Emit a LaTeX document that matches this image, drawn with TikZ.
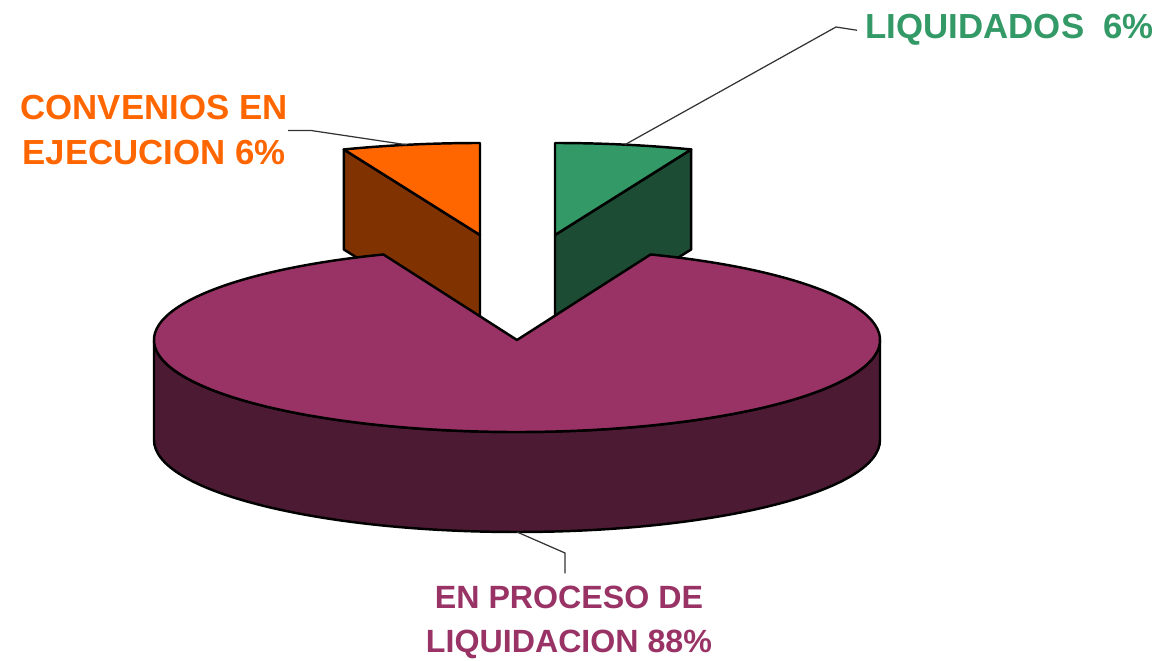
\documentclass[tikz,border=0pt]{standalone}
\usepackage{fontspec}
\setmainfont{Liberation Sans}
\usepackage{xcolor}
\usetikzlibrary{calc}

\definecolor{convtop}{HTML}{FF6600}
\definecolor{convside}{HTML}{803300}
\definecolor{liqtop}{HTML}{339966}
\definecolor{liqside}{HTML}{1C4C34}
\definecolor{proctop}{HTML}{993366}
\definecolor{procside}{HTML}{4C1A33}

\begin{document}
\begin{tikzpicture}[x=0.01cm, y=-0.01cm, font=\bfseries\fontsize{9.9}{12.8}\selectfont,
    face/.style={draw=black, line width=0.7pt, line join=round},
    leader/.style={draw=black!80, line width=0.35pt},
    piecetext/.style={inner sep=0pt, align=center}]
    \useasboundingbox (0,0) rectangle (1157,661);
    \def\rx{363}
    \def\ry{92}
    \def\sx{370}
    \def\depth{100}
    \coordinate (convc) at (480,235);
    \coordinate (liqc) at (555,235);
    \coordinate (procc) at (517,340);

    \draw[face, fill=convside] (convc) -- ++(-111.6:370 and 92) -- ++(0,\depth) -- ($(convc)+(0,\depth)$) -- cycle;
    \draw[face, fill=convtop] (convc) -- ++(-111.6:370 and 92) arc[start angle=-111.6, end angle=-90, x radius=\sx, y radius=\ry] -- cycle;
    \draw[face, fill=liqside] (liqc) -- ++(-68.4:370 and 92) -- ++(0,\depth) -- ($(liqc)+(0,\depth)$) -- cycle;
    \draw[face, fill=liqtop] (liqc) -- ++(-90:370 and 92) arc[start angle=-90, end angle=-68.4, x radius=\sx, y radius=\ry] -- cycle;

    \draw[face, fill=procside] ($(procc)+(\rx,0)$) arc[start angle=0, end angle=180, x radius=\rx, y radius=\ry] -- ++(0,\depth) arc[start angle=180, end angle=0, x radius=\rx, y radius=\ry] -- cycle;
    \draw[face, fill=proctop] (procc) -- ++(-68.4:363 and 92) arc[start angle=-68.4, end angle=248.4, x radius=\rx, y radius=\ry] -- cycle;

    \coordinate (convpin) at ($(convc)+(-101.4:370 and 92)$);
    \coordinate (liqpin) at ($(liqc)+(-79.1:370 and 92)$);
    \coordinate (procpin) at ($(procc)+(0,\depth)+(90:363 and 92)$);

    \node[piecetext, text=convtop] (convtext) at (154,130.5) {CONVENIOS EN\\EJECUCION 6\%};
    \node[piecetext, text=liqtop, anchor=base west] (liqtext) at (865,39) {LIQUIDADOS\ \ 6\%};
    \node[piecetext, text=proctop, font=\bfseries\fontsize{9.15}{12.5}\selectfont] (proctext) at (569,622.5) {EN PROCESO DE\\LIQUIDACION 88\%};

    \coordinate (convbend) at (311,130.5);
    \coordinate (liqbend) at (836,27);
    \coordinate (procbend) at (565,553);
    \draw[leader] (convpin) -- (convbend) -- (convtext.east);
    \draw[leader] (liqpin) -- (liqbend) -- ($(liqtext.west)+(-8,0)$);
    \draw[leader] (procpin) -- (procbend) -- ($(proctext.north)+(-4,-12)$);
\end{tikzpicture}
\end{document}
